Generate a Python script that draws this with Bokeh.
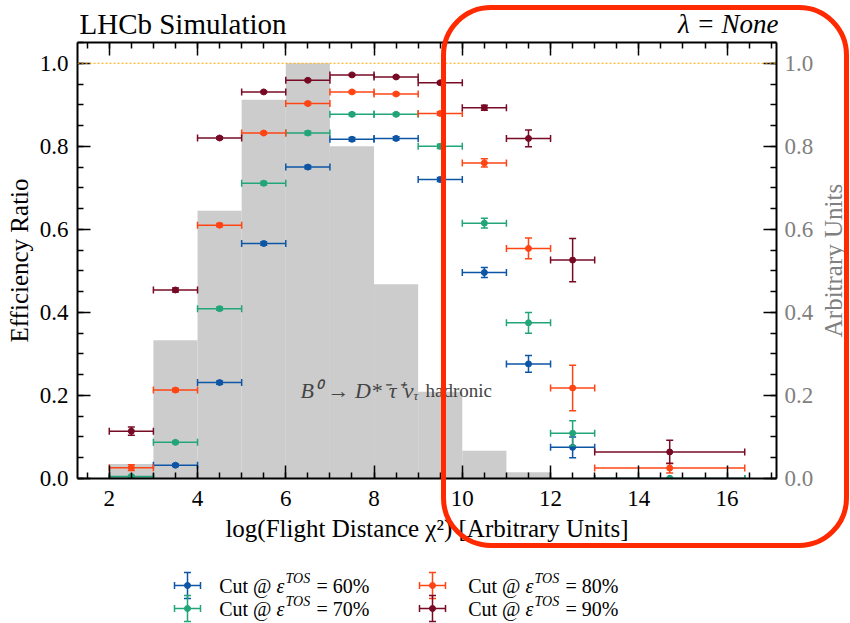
import math
from bokeh.plotting import figure
from bokeh.models import (Range1d, LinearAxis, Span, Label, Whisker, ColumnDataSource,
                          SingleIntervalTicker, TeeHead, PrintfTickFormatter)
from bokeh.layouts import column, row
from bokeh.core.properties import value
from bokeh.embed import file_html
from bokeh.resources import INLINE

FONT = "Liberation Serif"

# ---------------- data ----------------
hist_left = [2, 3, 4, 5, 6, 7, 8, 9, 10, 11]
hist_right = [3, 4, 5, 6, 7, 8, 9, 10, 11, 12]
hist_height = [0.035, 0.333, 0.645, 0.912, 1.000, 0.800, 0.468, 0.209, 0.067, 0.015]

bin_low = [2, 3, 4, 5, 6, 7, 8, 9, 10, 11, 12, 13]
bin_high = [3, 4, 5, 6, 7, 8, 9, 10, 11, 12, 13, 16.4]
bin_center = [2.5, 3.5, 4.5, 5.5, 6.5, 7.5, 8.5, 9.5, 10.5, 11.5, 12.5, 14.7]

cut_labels = ["60%", "70%", "80%", "90%"]
colors = ["#0d55a5", "#23a57a", "#ff4514", "#770a25"]

eff_60 = [0.000, 0.032, 0.231, 0.566, 0.750, 0.817, 0.819, 0.720, 0.496, 0.276, 0.075, 0.000]
err_60 = [0.002, 0.003, 0.004, 0.004, 0.004, 0.004, 0.004, 0.005, 0.012, 0.020, 0.025, 0.002]
eff_70 = [0.005, 0.087, 0.409, 0.711, 0.832, 0.877, 0.877, 0.800, 0.615, 0.375, 0.109, 0.000]
err_70 = [0.002, 0.003, 0.004, 0.004, 0.004, 0.003, 0.003, 0.005, 0.012, 0.025, 0.030, 0.002]
eff_80 = [0.026, 0.213, 0.610, 0.832, 0.903, 0.931, 0.926, 0.879, 0.760, 0.554, 0.218, 0.025]
err_80 = [0.007, 0.004, 0.004, 0.003, 0.003, 0.003, 0.003, 0.004, 0.010, 0.025, 0.055, 0.012]
eff_90 = [0.114, 0.454, 0.820, 0.931, 0.959, 0.972, 0.967, 0.953, 0.893, 0.819, 0.526, 0.064]
err_90 = [0.010, 0.005, 0.003, 0.002, 0.002, 0.002, 0.002, 0.003, 0.006, 0.020, 0.052, 0.028]

series = [(eff_60, err_60), (eff_70, err_70), (eff_80, err_80), (eff_90, err_90)]

x_lo, x_hi = 1.28, 17.12
y_lo, y_hi = 0.0, 1.05

# layout (canvas px)
F_LEFT, F_RIGHT = 77, 778
W = 850
SIDE_W = 34
H_HEAD, H_MAIN, H_LEG = 40, 520, 63
MAIN_TOP, MAIN_BOTTOM = 2, 82


def strip(width, height, x_range, y_range, left, right, top, bottom):
    f = figure(width=width, height=height, x_range=x_range, y_range=y_range,
               output_backend="svg", toolbar_location=None,
               x_axis_type=None, y_axis_type=None,
               min_border_left=left, min_border_right=right,
               min_border_top=top, min_border_bottom=bottom)
    f.outline_line_color = None
    f.background_fill_color = "white"
    f.border_fill_color = "white"
    return f


# ---------------- header (titles) ----------------
head = strip(W, H_HEAD, Range1d(F_LEFT - 2, F_RIGHT), Range1d(H_HEAD, 0),
             F_LEFT - 2, W - F_RIGHT, 0, 0)
head.text(x=[F_LEFT], y=[23], text=["LHCb Simulation"], text_font=value(FONT),
          text_font_size="29px", text_align="left", text_baseline="middle",
          text_color="black")
head.text(x=[F_RIGHT], y=[23.5], text=["λ = None"], text_font=value(FONT),
          text_font_size="27px", text_font_style="italic", text_align="right",
          text_baseline="middle", text_color="black")

# ---------------- main figure ----------------
p = figure(width=W - SIDE_W, height=H_MAIN, x_range=Range1d(x_lo, x_hi),
           y_range=Range1d(y_lo, y_hi), output_backend="svg", toolbar_location=None,
           min_border_left=F_LEFT, min_border_right=W - SIDE_W - F_RIGHT,
           min_border_top=MAIN_TOP, min_border_bottom=MAIN_BOTTOM)
p.extra_y_ranges = {"hist": Range1d(0, 1.05)}
p.xgrid.visible = False
p.ygrid.visible = False
p.outline_line_color = None
p.background_fill_color = "white"
p.border_fill_color = "white"

p.quad(left=hist_left, right=hist_right, bottom=0, top=hist_height, y_range_name="hist",
       fill_color="#cccccc", line_color=None)


def style_axis(ax, interval, standoff, label_color="black"):
    ax.ticker = SingleIntervalTicker(interval=interval, num_minor_ticks=4)
    ax.axis_line_width = 2
    ax.axis_line_color = "black"
    ax.major_tick_in = 13
    ax.major_tick_out = 0
    ax.minor_tick_in = 6
    ax.minor_tick_out = 0
    ax.major_tick_line_width = 1.5
    ax.minor_tick_line_width = 1.5
    ax.major_tick_line_color = "black"
    ax.minor_tick_line_color = "black"
    ax.major_label_text_font = FONT
    ax.major_label_text_font_size = "23px"
    ax.major_label_text_color = label_color
    ax.major_label_standoff = standoff
    ax.axis_label_text_font = FONT
    ax.axis_label_text_font_size = "25px"
    ax.axis_label_text_font_style = "normal"
    ax.axis_label_text_color = label_color


xax = p.xaxis[0]
style_axis(xax, 2, 12)
xax.axis_label = "log(Flight Distance χ²) [Arbitrary Units]"
xax.axis_label_standoff = 6

yax = p.yaxis[0]
style_axis(yax, 0.2, 9)
yax.axis_label = "Efficiency Ratio"
yax.axis_label_standoff = 4
yax.formatter = PrintfTickFormatter(format="%.1f")

top_ax = LinearAxis()
style_axis(top_ax, 2, 0)
top_ax.major_label_text_font_size = "1px"
top_ax.major_label_text_color = None
p.add_layout(top_ax, "above")

right_ax = LinearAxis(y_range_name="hist")
style_axis(right_ax, 0.2, 8, label_color="#808080")
right_ax.formatter = PrintfTickFormatter(format="%.1f")
p.add_layout(right_ax, "right")

p.add_layout(Span(location=1.0, dimension="width", line_color="#ffa500",
                  line_dash="2 2", line_width=1))

for (eff, err), color in zip(series, colors):
    src = ColumnDataSource(dict(
        x=bin_center, y=eff, xl=bin_low, xh=bin_high,
        yl=[e - d for e, d in zip(eff, err)], yh=[e + d for e, d in zip(eff, err)]))
    for base, lo, hi, dim in (("y", "xl", "xh", "width"), ("x", "yl", "yh", "height")):
        w = Whisker(source=src, base=base, lower=lo, upper=hi, dimension=dim,
                    line_color=color, line_width=1.5, level="glyph",
                    lower_head=TeeHead(size=7, line_color=color, line_width=1.5),
                    upper_head=TeeHead(size=7, line_color=color, line_width=1.5))
        p.add_layout(w)
    p.scatter("x", "y", source=src, size=6, color=color)


def fx(f):
    return x_lo + f * (x_hi - x_lo)


def fy(f):
    return y_lo + f * (y_hi - y_lo)


# decay annotation
p.add_layout(Label(x=fx(0.4807), y=fy(0.2018), text="B⁰ → D*⁻τ⁺ν", text_font=FONT,
                   text_font_size="22px", text_font_style="italic",
                   text_align="right", text_baseline="middle"))
p.add_layout(Label(x=fx(0.4807), y=fy(0.2018), y_offset=-5, text="τ", text_font=FONT,
                   text_font_size="13px", text_font_style="italic",
                   text_align="left", text_baseline="middle"))
p.add_layout(Label(x=fx(0.4979), y=fy(0.2018), text="hadronic", text_font=FONT,
                   text_font_size="19px", text_align="left", text_baseline="middle"))

# ---------------- right axis title strip ----------------
side = strip(SIDE_W, H_MAIN, Range1d(0, 1), Range1d(0, 1), 0, 0, MAIN_TOP, MAIN_BOTTOM)
side.text(x=[0.5], y=[0.5], text=["Arbitrary Units"], angle=math.pi / 2,
          text_font=value(FONT), text_font_size="25px", text_color="#808080",
          text_align="center", text_baseline="middle")

# ---------------- legend ----------------
leg = strip(W, H_LEG, Range1d(F_LEFT, F_RIGHT), Range1d(H_LEG, 0), F_LEFT, W - F_RIGHT, 0, 0)
marker_x = [187, 432]
eps_x = [276, 525]
row_y = [25, 48]
arm, cap = 13, 3.5

for i, (lab, color) in enumerate(zip(cut_labels, colors)):
    col, rw = i // 2, i % 2
    cx, cy = marker_x[col], row_y[rw]
    x0s = [cx - arm, cx, cx - arm, cx + arm, cx - cap, cx - cap]
    x1s = [cx + arm, cx, cx - arm, cx + arm, cx + cap, cx + cap]
    y0s = [cy, cy - arm, cy - cap, cy - cap, cy - arm, cy + arm]
    y1s = [cy, cy + arm, cy + cap, cy + cap, cy - arm, cy + arm]
    leg.segment(x0=x0s, y0=y0s, x1=x1s, y1=y1s, line_color=color, line_width=1.5)
    leg.scatter(x=[cx], y=[cy], size=6, color=color)
    tx = eps_x[col]
    leg.text(x=[tx], y=[cy], text=["Cut @ "], text_font=value(FONT), text_font_size="20px",
             text_align="right", text_baseline="middle", text_color="black")
    leg.text(x=[tx], y=[cy], text=["ε"], text_font=value(FONT), text_font_size="20px",
             text_font_style="italic", text_align="left", text_baseline="middle",
             text_color="black")
    leg.text(x=[tx + 9], y=[cy - 7], text=["TOS"], text_font=value(FONT),
             text_font_size="14px", text_font_style="italic", text_align="left",
             text_baseline="middle", text_color="black")
    leg.text(x=[tx + 40], y=[cy], text=["= " + lab], text_font=value(FONT),
             text_font_size="20px", text_align="left", text_baseline="middle",
             text_color="black")

layout = column(head, row(p, side), leg)
html = file_html(layout, INLINE)

# rounded red highlight frame drawn over the right part of the page
highlight = ('<div style="position:absolute;left:441px;top:5px;width:408px;height:543px;'
             'border:5px solid #ff2a00;border-radius:50px;box-sizing:border-box;'
             'pointer-events:none;z-index:10;"></div>')
html = html.replace("</body>", highlight + "</body>")
open("out.html", "w").write(html)
